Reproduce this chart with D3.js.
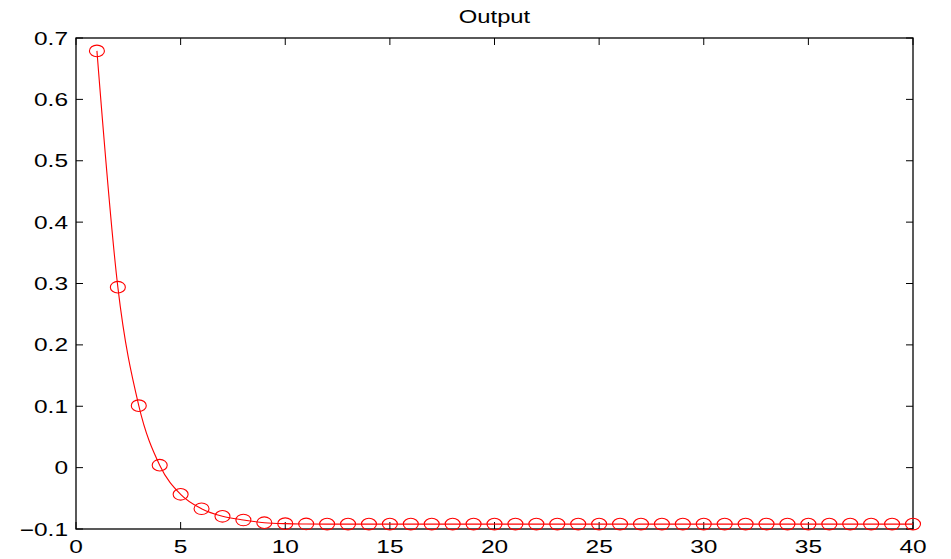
<!DOCTYPE html>
<html>
<head>
<meta charset="utf-8">
<script src="https://cdn.jsdelivr.net/npm/d3@7"></script>
<style>
  html, body { margin: 0; padding: 0; background: #fff; }
  svg { display: block; }
</style>
</head>
<body>
<div id="chart"></div>
<script>
// sample index and output values
const steps = d3.range(1, 41);
const outputValues = [
  0.679, 0.294, 0.101, 0.004, -0.0435, -0.067, -0.0793, -0.0853, -0.0897, -0.0913,
  -0.0918, -0.092, -0.092, -0.092, -0.092, -0.092, -0.092, -0.092, -0.092, -0.092,
  -0.092, -0.092, -0.092, -0.092, -0.092, -0.092, -0.092, -0.092, -0.092, -0.092,
  -0.092, -0.092, -0.092, -0.092, -0.092, -0.092, -0.092, -0.092, -0.092, -0.092
];
const xTicks = [0, 5, 10, 15, 20, 25, 30, 35, 40];
const yTicks = [-0.1, 0, 0.1, 0.2, 0.3, 0.4, 0.5, 0.6, 0.7];
const title = "Output";

const W = 951, H = 559;
const margin = { left: 76, right: 38, top: 38, bottom: 30 };
const stretch = 1.36; // text in the picture is drawn wide
const tickLen = 7;

const svg = d3.select("#chart").append("svg")
  .attr("width", W)
  .attr("height", H);

const x = d3.scaleLinear().domain([0, 40]).range([margin.left, W - margin.right]);
const y = d3.scaleLinear().domain([-0.1, 0.7]).range([H - margin.bottom, margin.top]);

const data = steps.map((s, i) => ({ s, v: outputValues[i] }));

// box
svg.append("rect")
  .attr("x", x(0)).attr("y", y(0.7))
  .attr("width", x(40) - x(0)).attr("height", y(-0.1) - y(0.7))
  .attr("fill", "none").attr("stroke", "#000").attr("stroke-width", 1.3);

// ticks on all four sides, pointing inward
const tickG = svg.append("g").attr("stroke", "#000").attr("stroke-width", 1);
xTicks.forEach(t => {
  tickG.append("line").attr("x1", x(t)).attr("x2", x(t)).attr("y1", y(-0.1)).attr("y2", y(-0.1) - tickLen);
  tickG.append("line").attr("x1", x(t)).attr("x2", x(t)).attr("y1", y(0.7)).attr("y2", y(0.7) + tickLen);
});
yTicks.forEach(t => {
  tickG.append("line").attr("x1", x(0)).attr("x2", x(0) + tickLen).attr("y1", y(t)).attr("y2", y(t));
  tickG.append("line").attr("x1", x(40)).attr("x2", x(40) - tickLen).attr("y1", y(t)).attr("y2", y(t));
});

const fmtY = d => d === 0 ? "0" : d3.format(".1f")(d).replace("-", "\u2212");
const fmtX = d => String(d);

function label(px, py, txt, anchor, size) {
  svg.append("g")
    .attr("transform", `translate(${px},${py}) scale(${stretch},1)`)
    .append("text")
    .attr("text-anchor", anchor)
    .attr("font-family", "'Liberation Sans', Arial, sans-serif")
    .attr("font-size", size)
    .attr("fill", "#000")
    .text(txt);
}

xTicks.forEach(t => label(x(t), H - 6, fmtX(t), "middle", 18));
yTicks.forEach(t => label(x(0) - 8, y(t) + 6.5, fmtY(t), "end", 18));
label((x(0) + x(40)) / 2, 23, title, "middle", 17.5);

// line and markers
svg.append("path")
  .datum(data)
  .attr("fill", "none")
  .attr("stroke", "#ff0000")
  .attr("stroke-width", 1.1)
  .attr("d", d3.line().x(d => x(d.s)).y(d => y(d.v)).curve(d3.curveMonotoneX));

svg.append("g").selectAll("ellipse")
  .data(data)
  .join("ellipse")
  .attr("cx", d => x(d.s))
  .attr("cy", d => y(d.v))
  .attr("rx", 7.5)
  .attr("ry", 5.8)
  .attr("fill", "none")
  .attr("stroke", "#ff0000")
  .attr("stroke-width", 1.1);
</script>
</body>
</html>
